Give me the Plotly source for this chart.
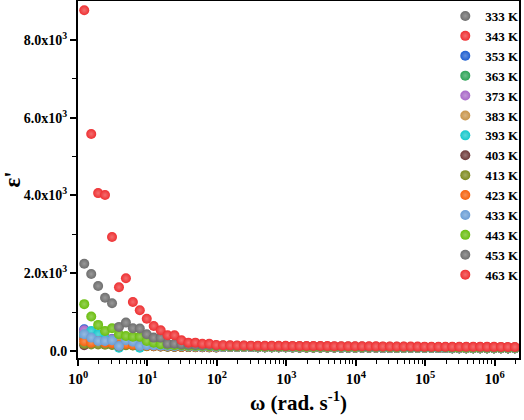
import plotly.graph_objects as go

# angular frequency (rad/s), 10 points per decade
omega = [1.23, 1.55, 1.95, 2.45, 3.09, 3.89, 4.90, 6.17, 7.76, 9.77,
         12.3, 15.5, 19.5, 24.5, 30.9, 38.9, 49.0, 61.7, 77.6, 97.7,
         123, 155, 195, 245, 309, 389, 490, 617, 776, 977,
         1230, 1550, 1950, 2450, 3090, 3890, 4900, 6170, 7760, 9770,
         12300, 15500, 19500, 24500, 30900, 38900, 49000, 61700, 77600, 97700,
         123000, 155000, 195000, 245000, 309000, 389000, 490000, 617000, 776000, 977000,
         1230000, 1550000, 1950000]

tail_hi = [150, 145, 142, 140, 138, 136, 135, 134, 133, 132,
           131, 130, 129, 128, 127, 126, 125, 124, 123, 122,
           121, 120, 119, 118, 117, 116, 115, 114, 113, 112,
           111, 111, 110, 110, 109, 109, 108, 108, 107, 107, 106, 106, 105]
tail_453 = [140, 137, 135, 133, 131, 129, 127, 126, 125, 124,
            123, 122, 121, 120, 119, 118, 117, 116, 115, 114,
            113, 112, 111, 110, 109, 108, 107, 106, 105, 104,
            104, 103, 103, 102, 102, 101, 101, 100, 100, 99, 99, 98, 98]
tail_443 = [120, 118, 116, 115, 114, 113, 112, 111, 110, 109,
            108, 107, 106, 105, 104, 103, 102, 101, 100, 99,
            98, 97, 96, 95, 94, 93, 92, 91, 90, 89,
            89, 88, 88, 87, 87, 86, 86, 85, 85, 84, 84, 83, 83]
tail_lo = [104, 103, 102, 101, 100, 99, 98, 97, 96, 95,
           94, 93, 92, 91, 90, 89, 88, 87, 86, 85,
           84, 83, 82, 81, 80, 79, 78, 77, 76, 75,
           75, 74, 74, 73, 73, 72, 72, 71, 71, 70, 70, 69, 69]

eps_333 = [300, 270, 250, 230, 215, 160, 190, 170, 160, 150, 140, 132, 126, 120, 116, 112, 110, 108, 106, 104] + tail_lo
eps_343 = [350, 300, 270, 240, 215, 170, 200, 180, 165, 150, 140, 132, 125, 120, 115, 111, 108, 105, 102, 100] + tail_lo
eps_353 = [560, 470, 400, 350, 310, 230, 270, 240, 210, 185, 170, 155, 145, 136, 129, 123, 118, 114, 110, 107] + tail_lo
eps_363 = [480, 420, 370, 320, 280, 210, 250, 220, 195, 175, 160, 148, 138, 130, 124, 119, 115, 111, 108, 105] + tail_lo
eps_373 = [534, 450, 390, 340, 300, 220, 260, 230, 200, 180, 165, 150, 140, 132, 125, 120, 115, 112, 109, 106] + tail_lo
eps_383 = [420, 380, 340, 300, 270, 200, 240, 210, 190, 170, 155, 145, 135, 128, 122, 117, 113, 110, 107, 104] + tail_lo
eps_393 = [387, 516, 430, 300, 260, 86, 240, 200, 86, 150, 140, 130, 120, 115, 110, 106, 103, 100, 98, 96] + tail_lo
eps_403 = [147, 240, 200, 180, 170, 120, 160, 150, 140, 130, 120, 115, 110, 106, 103, 100, 98, 96, 94, 92] + tail_lo
eps_413 = [180, 170, 165, 160, 155, 120, 150, 140, 130, 125, 120, 116, 112, 108, 105, 102, 100, 98, 96, 94] + tail_lo
eps_423 = [250, 215, 258, 215, 200, 150, 180, 160, 140, 135, 130, 125, 120, 116, 112, 108, 105, 102, 100, 98] + tail_lo
eps_433 = [430, 344, 258, 258, 276, 129, 276, 240, 129, 150, 140, 135, 130, 125, 120, 116, 113, 110, 108, 106] + tail_lo
eps_443 = [1205, 885, 671, 516, 586, 430, 387, 369, 369, 258, 215, 173, 160, 150, 142, 136, 132, 128, 125, 122] + tail_443
eps_453 = [2245, 1980, 1670, 1370, 1230, 620, 730, 586, 580, 430, 344, 344, 188, 188, 170, 160, 155, 150, 146, 142] + tail_453
eps_463 = [8760, 5580, 4060, 4010, 2930, 1640, 1870, 1260, 1050, 830, 645, 534, 405, 405, 276, 215, 215, 188, 188, 155] + tail_hi

temps = ["333 K", "343 K", "353 K", "363 K", "373 K", "383 K", "393 K",
         "403 K", "413 K", "423 K", "433 K", "443 K", "453 K", "463 K"]
series = [eps_333, eps_343, eps_353, eps_363, eps_373, eps_383, eps_393,
          eps_403, eps_413, eps_423, eps_433, eps_443, eps_453, eps_463]
colors = ["#6E6E6E", "#EE3032", "#1F5FD0", "#2FA457", "#A868C8", "#C8954A", "#17C8CC",
          "#6E3A3A", "#7E8A1E", "#F5620F", "#6A9ED6", "#6BBE10", "#6E6E6E", "#EE3032"]

def tint(hexc, f=0.3):
    r, g, b = int(hexc[1:3], 16), int(hexc[3:5], 16), int(hexc[5:7], 16)
    r, g, b = [int(c + (255 - c) * f) for c in (r, g, b)]
    return f"rgb({r},{g},{b})"

FONT = "Liberation Serif, Times New Roman, Times, serif"
fig = go.Figure()
for name, ys, c in zip(temps, series, colors):
    fig.add_trace(go.Scatter(
        x=omega, y=ys, mode="markers", name=name,
        marker=dict(size=10, color=c, line=dict(width=0),
                    gradient=dict(type="radial", color=tint(c)))))

major_x = [1, 10, 100, 1000, 10000, 100000, 1000000]
minor_x = [m * d for d in major_x for m in range(2, 10)]

fig.update_layout(
    width=524, height=420,
    margin=dict(l=78, r=5, t=1, b=62, autoexpand=False),
    plot_bgcolor="white", paper_bgcolor="white",
    font=dict(family=FONT, color="black"),
    showlegend=True,
    legend=dict(x=1.012, y=1.0, xanchor="right", yanchor="top",
                bgcolor="rgba(0,0,0,0)", borderwidth=0,
                font=dict(family=FONT, size=13, color="black", weight="bold"),
                itemwidth=30, tracegroupgap=0),
    xaxis=dict(type="log", range=[0, 6.35], automargin=False,
               tickmode="array", tickvals=major_x,
               ticktext=["10<sup>0</sup>", "10<sup>1</sup>", "10<sup>2</sup>", "10<sup>3</sup>",
                         "10<sup>4</sup>", "10<sup>5</sup>", "10<sup>6</sup>"],
               ticks="outside", ticklen=6, tickwidth=1.5, tickcolor="black",
               minor=dict(tickmode="array", tickvals=minor_x, ticks="outside", ticklen=3.5,
                          tickwidth=1.2, tickcolor="black"),
               showline=True, linewidth=2, linecolor="black", mirror=True,
               showgrid=False, zeroline=False,
               tickfont=dict(family=FONT, size=15, color="black", weight="bold"),
               title=dict(text="ω (rad. s<sup>-1</sup>)", standoff=9,
                          font=dict(family=FONT, size=21, color="black", weight="bold"))),
    yaxis=dict(range=[-180, 9000], automargin=False,
               tickmode="array", tickvals=[0, 2000, 4000, 6000, 8000],
               ticktext=["0.0", "2.0x10<sup>3</sup>", "4.0x10<sup>3</sup>",
                         "6.0x10<sup>3</sup>", "8.0x10<sup>3</sup>"],
               ticks="outside", ticklen=6, tickwidth=1.5, tickcolor="black",
               minor=dict(tickmode="array", tickvals=[1000, 3000, 5000, 7000],
                          ticks="outside", ticklen=4, tickwidth=1.2, tickcolor="black"),
               showline=True, linewidth=2, linecolor="black", mirror=True,
               showgrid=False, zeroline=False,
               tickfont=dict(family=FONT, size=14, color="black", weight="bold"),
               title=dict(text="ε'", standoff=26,
                          font=dict(family=FONT, size=23, color="black", weight="bold"))),
)

fig.write_html("out.html", config={"displayModeBar": False},
               post_script="document.body.style.margin='0px';")
